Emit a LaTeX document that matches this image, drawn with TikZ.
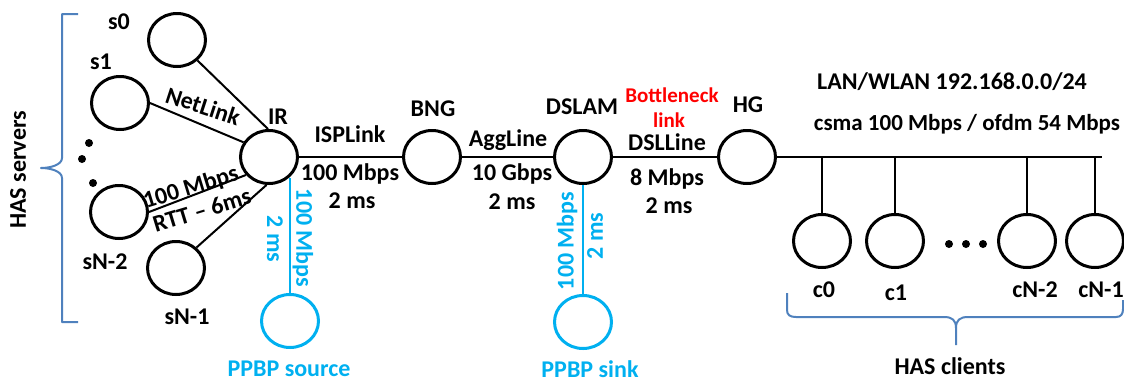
\documentclass[tikz,border=0pt]{standalone}
\usepackage{fontspec}
\setmainfont{Carlito}
\usetikzlibrary{shapes.geometric}
\definecolor{bracecol}{HTML}{4F81BD}
\definecolor{ppbp}{HTML}{00B0F0}
\definecolor{redlbl}{HTML}{FF0000}
\begin{document}
\begin{tikzpicture}[x=1pt,y=-1pt,
  nd/.style={ellipse, draw, line width=3pt, minimum width=57pt, minimum height=53pt, inner sep=0pt},
  pnd/.style={nd, draw=ppbp},
  lk/.style={line width=2pt},
  plk/.style={line width=2.2pt, draw=ppbp},
  lbl/.style={font=\bfseries\fontsize{24}{28}\selectfont, inner sep=0pt},
  plbl/.style={lbl, text=ppbp},
  rlbl/.style={font=\bfseries\fontsize{21}{25}\selectfont, inner sep=0pt, text=redlbl},
  brc/.style={draw=bracecol, line width=2pt, line join=round},
  dotn/.style={circle, fill, inner sep=0pt, minimum size=8pt}
]
\useasboundingbox (0,0) rectangle (1124,384);

% nodes
\node[nd] (s0) at (177,40) {};
\node[nd] (s1) at (120,103) {};
\node[nd] (sN2) at (119,212) {};
\node[nd] (sN1) at (176,268) {};
\node[nd] (IR) at (269,157) {};
\node[pnd] (src) at (290,321) {};
\node[nd] (BNG) at (432,157) {};
\node[nd] (DSLAM) at (583,157) {};
\node[pnd] (sink) at (583,322) {};
\node[nd] (HG) at (747,157) {};
\node[nd] (c0) at (822,241) {};
\node[nd] (c1) at (895,241) {};
\node[nd] (cN2) at (1027,241) {};
\node[nd] (cN1) at (1095,241) {};

% dots
\node[dotn] (d1) at (89,143) {};
\node[dotn] (d2) at (82,159) {};
\node[dotn] (d3) at (93,183) {};
\node[dotn] (e1) at (949,244) {};
\node[dotn] (e2) at (966,244) {};
\node[dotn] (e3) at (983,244) {};

% server links
\draw[lk] (s0.-45) -- (IR.92);
\draw[lk] (s1.east) -- (IR.150);
\draw[lk] (sN2.east) -- (IR.-142);
\draw[lk] (sN1.45) -- (IR.-95);
\node[lbl, rotate=-18] (netlink) at (203,106) {NetLink};
\node[lbl, rotate=17] (srvbw) at (191,188) {100 Mbps};
\node[lbl, rotate=17] (srvrtt) at (202,210) {RTT – 6ms};

% backbone
\draw[lk] (IR) -- (BNG);
\draw[lk] (BNG) -- (DSLAM);
\draw[lk] (DSLAM) -- (HG);
\coordinate (busend) at (1102,157);
\draw[lk] (HG) -- (busend);
\draw[lk] (c0 |- busend) -- (c0);
\draw[lk] (c1 |- busend) -- (c1);
\draw[lk] (cN2 |- busend) -- (cN2);
\draw[lk] (cN1 |- busend) -- (cN1);

% ppbp links
\draw[plk] (src.north) -- (src.north |- IR.-47);
\draw[plk] (DSLAM) -- (sink);

% node labels
\node[lbl] (ls0) at (119,22) {s0};
\node[lbl] (ls1) at (101,62) {s1};
\node[lbl] (lsN2) at (105,262) {sN-2};
\node[lbl] (lsN1) at (187,317) {sN-1};
\node[lbl] (lIR) at (278,117) {IR};
\node[lbl] (lBNG) at (433,109) {BNG};
\node[lbl] (lDSLAM) at (582,107) {DSLAM};
\node[lbl] (lHG) at (748,105) {HG};
\node[lbl] (lc0) at (824,290) {c0};
\node[lbl] (lc1) at (896,293) {c1};
\node[lbl] (lcN2) at (1035,290) {cN-2};
\node[lbl] (lcN1) at (1101,290) {cN-1};

% link labels
\node[lbl] (isp) at (350,134) {ISPLink};
\node[lbl] (isp2) at (350,174) {100 Mbps};
\node[lbl] (isp3) at (352,201) {2 ms};
\node[lbl] (agg) at (508,140) {AggLine};
\node[lbl] (agg2) at (512,174) {10 Gbps};
\node[lbl] (agg3) at (512,202) {2 ms};
\node[rlbl] (bn1) at (672,95) {Bottleneck};
\node[rlbl] (bn2) at (669,120) {link};
\node[lbl] (dsl) at (667,142) {DSLLine};
\node[lbl] (dsl2) at (667,179) {8 Mbps};
\node[lbl] (dsl3) at (669,206) {2 ms};
\node[lbl] (lan) at (952,82) {LAN/WLAN 192.168.0.0/24};
\node[lbl, font=\bfseries\fontsize{23}{27}\selectfont] (csma) at (967,124) {csma 100 Mbps / ofdm 54 Mbps};

% ppbp labels
\node[plbl, rotate=-90] (p1) at (303,238) {100 Mbps};
\node[plbl, rotate=-90] (p2) at (275,239) {2 ms};
\node[plbl, rotate=90] (p3) at (567,241) {100 Mbps};
\node[plbl, rotate=90] (p4) at (595,236) {2 ms};
\node[plbl] (psrc) at (289,369) {PPBP source};
\node[plbl] (psink) at (590,369) {PPBP sink};

% braces and group labels
\draw[brc] (78,14) -- (62,14) -- (62,158) .. controls (62,165) and (50,168) .. (41,168)
  .. controls (50,168) and (62,171) .. (62,178) -- (62,322) -- (78,322);
\node[lbl, rotate=90] (hass) at (18,170) {HAS servers};
\draw[brc] (787,293) -- (787,310) .. controls (787,315) and (790,317) .. (796,317) -- (944,317)
  .. controls (952,317) and (956,320) .. (956,328) -- (956,345);
\draw[brc] (956,328) .. controls (956,320) and (960,317) .. (968,317) -- (1116,317)
  .. controls (1121,317) and (1123,314) .. (1123,309) -- (1123,300);
\node[lbl] (hasc) at (950,366) {HAS clients};
\end{tikzpicture}
\end{document}
